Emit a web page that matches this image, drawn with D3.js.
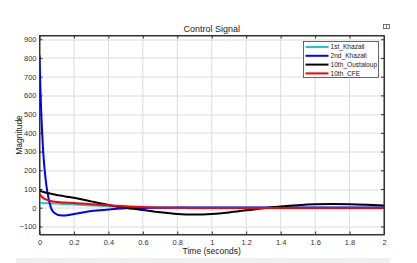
<!DOCTYPE html>
<html lang="en">
<head>
    <meta charset="UTF-8">
    <title>Control Signal</title>
    <script src="https://d3js.org/d3.v7.min.js"></script>
    <style>
        body { margin: 0; background: #fff; }
        text { font-family: "Liberation Sans", Arial, sans-serif; }
    </style>
</head>
<body>
    <div id="chart"></div>

    <script>
        // tiempo (s) y señales
        var time = [0, 0.005, 0.01, 0.015, 0.02, 0.03, 0.04, 0.05, 0.06, 0.07, 0.08, 0.1, 0.12, 0.14, 0.16, 0.2,
                    0.25, 0.3, 0.35, 0.4, 0.45, 0.5, 0.6, 0.7, 0.8, 0.9, 1.0, 1.1, 1.2, 1.3, 1.4, 1.5, 1.6, 1.7, 1.8, 1.9, 2.0];

        var khazali1 = [25, 25, 25, 24.5, 24.5, 24, 24, 23.5, 23, 23, 22.5, 22, 21, 20, 19, 17,
                        14.5, 12, 10, 8, 6, 4, 2, 1, 0.5, 0.3, 0, 0, 0, 0, 0, 0, 0, 0, 0, 0, 0];

        var khazali2 = [815, 640, 510, 405, 320, 200, 120, 62, 20, -8, -22, -35, -40, -41, -40, -33,
                        -25, -18, -14, -10, -6, -3, -1, 0, 1, 1, 1, 1, 1, 1, 1, 1, 1, 1, 1, 1, 1];

        var oustaloup10 = [93, 90, 88, 86, 85, 83, 80, 78, 76, 74, 72, 68, 65, 62, 59, 53,
                           44, 34, 24, 15, 7, 0, -12, -24, -33, -36, -33, -25, -14, -3, 6, 13, 18, 20, 19, 16, 12];

        var cfe10 = [75, 68, 62, 57, 53, 47, 43, 40, 37, 35, 33, 31, 29, 28, 27, 25,
                     22, 19, 16, 13, 10, 8, 4, 1, 0, -1, -2, -2, -2, -2, -2, -2, -2, -2, -2, -2, -2];

        var seriesNames = ["1st_Khazali", "2nd_Khazali", "10th_Oustaloup", "10th_CFE"];
        var seriesColors = ["#1ec8c8", "#0000ff", "#000000", "#ff0000"];
        var seriesValues = [khazali1, khazali2, oustaloup10, cfe10];

        var xTicks = [0, 0.2, 0.4, 0.6, 0.8, 1, 1.2, 1.4, 1.6, 1.8, 2];
        var yTicks = [-100, 0, 100, 200, 300, 400, 500, 600, 700, 800, 900];

        var width = 417;
        var height = 263;
        var margin = { top: 35.5, right: 33, bottom: 28.5, left: 39.5 };
        var plotW = width - margin.left - margin.right;
        var plotH = height - margin.top - margin.bottom;

        var svg = d3.select("#chart")
                    .append("svg")
                    .attr("width", width)
                    .attr("height", height);

        // franja gris inferior
        svg.append("rect")
           .attr("x", 16).attr("y", 258)
           .attr("width", 374).attr("height", 5)
           .attr("fill", "#efefef");

        // icono arriba a la derecha
        svg.append("rect")
           .attr("x", 383.5).attr("y", 24.5)
           .attr("width", 6).attr("height", 4)
           .attr("fill", "none").attr("stroke", "#555").attr("stroke-width", 0.8);
        svg.append("line")
           .attr("x1", 386.5).attr("x2", 386.5).attr("y1", 24.5).attr("y2", 28.5)
           .attr("stroke", "#555").attr("stroke-width", 0.8);

        var g = svg.append("g")
                   .attr("transform", "translate(" + margin.left + "," + margin.top + ")");

        var xScale = d3.scaleLinear().domain([0, 2]).range([0, plotW]);
        var yScale = d3.scaleLinear().domain([-143, 920]).range([plotH, 0]);

        // cuadrícula
        g.append("g")
         .selectAll("line")
         .data(xTicks)
         .enter()
         .append("line")
         .attr("x1", function(d) { return xScale(d); })
         .attr("x2", function(d) { return xScale(d); })
         .attr("y1", 0).attr("y2", plotH)
         .attr("stroke", "#dcdcdc").attr("stroke-width", 1);

        g.append("g")
         .selectAll("line")
         .data(yTicks)
         .enter()
         .append("line")
         .attr("x1", 0).attr("x2", plotW)
         .attr("y1", function(d) { return Math.round(yScale(d)) + 0.5; })
         .attr("y2", function(d) { return Math.round(yScale(d)) + 0.5; })
         .attr("stroke", "#dcdcdc").attr("stroke-width", 1);

        // ejes
        var xAxis = g.append("g")
                     .attr("transform", "translate(0," + plotH + ")")
                     .call(d3.axisBottom(xScale).tickValues(xTicks).tickSizeInner(-3).tickSizeOuter(0)
                             .tickFormat(function(d) { return d3.format("")(d); }));
        var yAxis = g.append("g")
                     .call(d3.axisLeft(yScale).tickValues(yTicks).tickSizeInner(-3).tickSizeOuter(0));

        // ticks superiores y derechos
        g.append("g")
         .call(d3.axisTop(xScale).tickValues(xTicks).tickSizeInner(-3).tickSizeOuter(0).tickFormat(""));
        g.append("g")
         .attr("transform", "translate(" + plotW + ",0)")
         .call(d3.axisRight(yScale).tickValues(yTicks).tickSizeInner(-3).tickSizeOuter(0).tickFormat(""));

        svg.selectAll(".domain").attr("stroke", "#333");
        svg.selectAll(".tick line").attr("stroke", "#333");
        svg.selectAll(".tick text").attr("fill", "#333").attr("font-size", "7.5px")
           .attr("font-family", "Liberation Sans, Arial, sans-serif");
        xAxis.selectAll(".tick text").attr("dy", "0.95em").attr("y", 3);
        yAxis.selectAll(".tick text").attr("x", -3);

        // líneas
        var line = d3.line()
                     .x(function(d) { return xScale(d[0]); })
                     .y(function(d) { return yScale(d[1]); })
                     .curve(d3.curveMonotoneX);

        var clip = g.append("clipPath").attr("id", "clip")
                    .append("rect").attr("width", plotW).attr("height", plotH);

        seriesValues.forEach(function(vals, i) {
            g.append("path")
             .datum(time.map(function(t, k) { return [t, vals[k]]; }))
             .attr("d", line)
             .attr("clip-path", "url(#clip)")
             .attr("fill", "none")
             .attr("stroke", seriesColors[i])
             .attr("stroke-width", 2);
        });

        // caja del área
        g.append("rect")
         .attr("width", plotW).attr("height", plotH)
         .attr("fill", "none").attr("stroke", "#333").attr("stroke-width", 1);

        // títulos
        svg.append("text")
           .attr("x", margin.left + plotW / 2).attr("y", 32)
           .attr("text-anchor", "middle")
           .attr("font-size", "9px").attr("fill", "#222")
           .text("Control Signal");

        svg.append("text")
           .attr("x", margin.left + plotW / 2).attr("y", 253.5)
           .attr("text-anchor", "middle")
           .attr("font-size", "8.5px").attr("fill", "#222")
           .text("Time (seconds)");

        svg.append("text")
           .attr("transform", "translate(22," + (margin.top + plotH / 2) + ") rotate(-90)")
           .attr("text-anchor", "middle")
           .attr("font-size", "8.5px").attr("fill", "#222")
           .text("Magnitude");

        // leyenda
        var legend = svg.append("g").attr("transform", "translate(303.5,41.5)");
        legend.append("rect")
              .attr("width", 75).attr("height", 36)
              .attr("fill", "#fff").attr("stroke", "#444").attr("stroke-width", 0.8);

        var items = legend.selectAll("g.item")
                          .data(seriesNames)
                          .enter()
                          .append("g")
                          .attr("transform", function(d, i) { return "translate(0," + (5.5 + i * 8.8) + ")"; });

        items.append("line")
             .attr("x1", 2).attr("x2", 25)
             .attr("stroke", function(d, i) { return seriesColors[i]; })
             .attr("stroke-width", 2);

        items.append("text")
             .text(function(d) { return d; })
             .attr("x", 27)
             .attr("dy", "0.35em")
             .attr("font-size", "6.6px")
             .attr("fill", "#222");
    </script>
</body>
</html>
